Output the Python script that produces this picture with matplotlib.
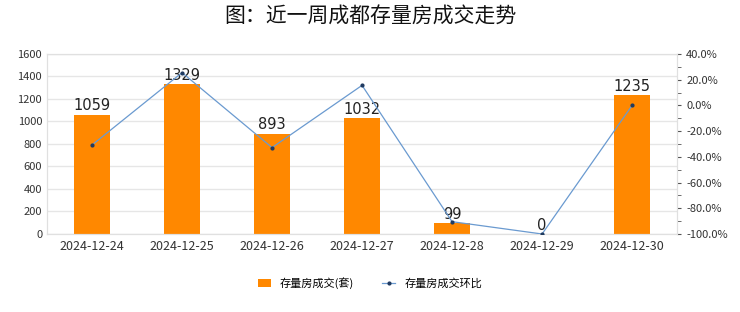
import matplotlib
matplotlib.use("Agg")
import matplotlib.pyplot as plt
from matplotlib.ticker import FuncFormatter, MultipleLocator

plt.rcParams['font.family'] = ['Noto Sans CJK SC', 'DejaVu Sans']

dates = ["2024-12-24", "2024-12-25", "2024-12-26", "2024-12-27", "2024-12-28", "2024-12-29", "2024-12-30"]
volume = [1059, 1329, 893, 1032, 99, 0, 1235]
ratio = [-30.8, 25.5, -32.8, 15.6, -90.4, -100.0, 0.0]

fig = plt.figure(figsize=(7.4, 3.12), dpi=100)
ax = fig.add_axes([0.0635, 0.25, 0.8515, 0.577])
x = list(range(len(dates)))
bars = ax.bar(x, volume, width=0.4, color="#FF8800", label="存量房成交(套)", zorder=2)
for xi, v in zip(x, volume):
    ax.text(xi, v + 12, str(v), ha="center", va="bottom", fontsize=10.5, color="#222222",
            family="DejaVu Sans", zorder=5)
ax.set_ylim(0, 1600)
ax.set_yticks(range(0, 1601, 200))
ax.set_xlim(-0.5, len(dates) - 0.5)
ax.set_xticks(x)
ax.set_xticklabels(dates)
ax.grid(axis="y", color="#e6e6e6", linewidth=1, zorder=0)
ax.tick_params(axis="both", length=0, labelsize=8, colors="#333333")
ax.tick_params(axis="x", labelsize=9, pad=4)
for s in ax.spines.values():
    s.set_color("#e0e0e0")

ax2 = ax.twinx()
ln, = ax2.plot(x, ratio, color="#6a9ad0", linewidth=0.9, marker="o", markersize=2,
               markerfacecolor="#1f3a60", markeredgecolor="#1f3a60", label="存量房成交环比", zorder=4)
ax2.set_ylim(-100, 40)
ax2.set_yticks(range(-100, 41, 20))
ax2.yaxis.set_minor_locator(MultipleLocator(10))
ax2.yaxis.set_major_formatter(FuncFormatter(lambda v, p: f"{v:.1f}%"))
ax2.tick_params(axis="y", which="major", length=3, color="#555555", labelsize=8, colors="#333333")
ax2.tick_params(axis="y", which="minor", length=3, color="#555555")
for s in ax2.spines.values():
    s.set_color("#e0e0e0")

fig.text(0.5, 0.948, "图：近一周成都存量房成交走势", ha="center", va="center", fontsize=15,
         color="#111111")
fig.legend(handles=[bars, ln], loc="center", bbox_to_anchor=(0.5, 0.093), ncol=2, frameon=False,
           fontsize=8, handlelength=1.2, columnspacing=2.5)

fig.savefig("out.png", dpi=100)
